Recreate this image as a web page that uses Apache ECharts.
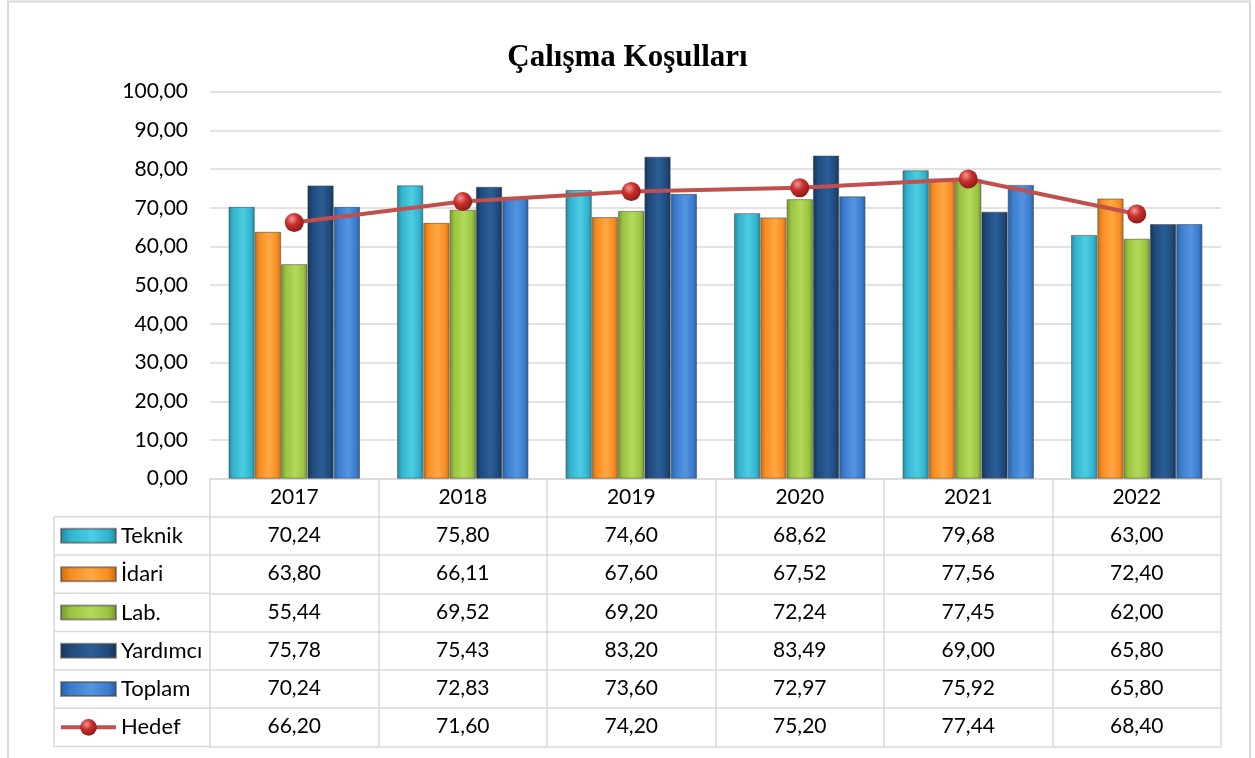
<!DOCTYPE html>
<html lang="tr">
<head>
    <meta charset="UTF-8">
    <title>Çalışma Koşulları</title>
    <script src="https://cdn.jsdelivr.net/npm/echarts@6.0.0/dist/echarts.min.js"></script>
    <style>
        html, body { margin: 0; padding: 0; background: #fff; }
        #main { width: 1255px; height: 758px; }
    </style>
</head>
<body>
<div id="main"></div>
<script>
    // veriler
    var years = ['2017', '2018', '2019', '2020', '2021', '2022'];
    var teknik = [70.24, 75.80, 74.60, 68.62, 79.68, 63.00];
    var idari = [63.80, 66.11, 67.60, 67.52, 77.56, 72.40];
    var lab = [55.44, 69.52, 69.20, 72.24, 77.45, 62.00];
    var yardimci = [75.78, 75.43, 83.20, 83.49, 69.00, 65.80];
    var toplam = [70.24, 72.83, 73.60, 72.97, 75.92, 65.80];
    var hedef = [66.20, 71.60, 74.20, 75.20, 77.44, 68.40];
    var seriesNames = ['Teknik', 'İdari', 'Lab.', 'Yardımcı', 'Toplam', 'Hedef'];
    var yMin = 0, yMax = 100, yStep = 10;

    var rows = [teknik, idari, lab, yardimci, toplam, hedef];

    // renkler: kenar, orta, açık
    var palette = [
        ['#23869b', '#33b4ce', '#4ccde3'],
        ['#c56a12', '#f68d20', '#ffa844'],
        ['#729430', '#9bc43f', '#b3d95a'],
        ['#143257', '#1f4a7c', '#2b5e97'],
        ['#295e9d', '#3a7dcf', '#5494df']
    ];

    var font = 'Lato, "Open Sans", sans-serif';
    var line = '#d9d9d9';

    // yerleşim
    var gridLeft = 210, gridRight = 34, gridTop = 91.7, gridBottomY = 478.7;
    var headerH = 38, rowH = 38.3;
    var tableLeft = 54;
    var tableBottom = gridBottomY + headerH + rowH * rows.length;
    var labelSize = 21, legendSize = 22;

    function fmt(v) {
        return v.toFixed(2).replace('.', ',');
    }

    function grad(c) {
        return new echarts.graphic.LinearGradient(0, 0, 1, 0, [
            {offset: 0, color: c[0]},
            {offset: 0.18, color: c[1]},
            {offset: 0.55, color: c[2]},
            {offset: 0.85, color: c[1]},
            {offset: 1, color: c[0]}
        ]);
    }

    var series = [];
    for (var i = 0; i < 5; i++) {
        series.push({
            name: seriesNames[i],
            type: 'bar',
            data: rows[i],
            barWidth: 26.3,
            barGap: '0%',
            itemStyle: {
                color: grad(palette[i]),
                borderColor: 'rgba(70,70,70,0.55)',
                borderWidth: 1
            }
        });
    }
    series.push({
        name: seriesNames[5],
        type: 'line',
        data: hedef,
        symbol: 'circle',
        symbolSize: 19,
        z: 5,
        lineStyle: {color: '#c0504d', width: 4},
        itemStyle: {
            color: new echarts.graphic.RadialGradient(0.38, 0.32, 0.7, [
                {offset: 0, color: '#f09a97'},
                {offset: 0.45, color: '#c9302c'},
                {offset: 1, color: '#8c1b19'}
            ]),
            borderWidth: 0
        }
    });

    // lejant: çubuk simgesi yassı dikdörtgen, hedef kalın çizgi + top
    var legendData = seriesNames.map(function (n, idx) {
        if (idx < 5) {
            return {name: n, icon: 'path://M0,0H51V13H0Z'};
        }
        return {name: n, lineStyle: {width: 4}};
    });

    // tablo satırları: ek x eksenleri
    var xAxes = [{
        type: 'category',
        data: years,
        position: 'bottom',
        axisLine: {lineStyle: {color: line, width: 1.5}},
        axisTick: {show: true, length: tableBottom - gridBottomY, lineStyle: {color: line, width: 1.5}},
        axisLabel: {color: '#000', fontSize: labelSize, fontFamily: font, margin: 8}
    }];
    for (var r = 0; r < rows.length; r++) {
        xAxes.push({
            type: 'category',
            gridIndex: 0,
            data: rows[r].map(fmt),
            position: 'bottom',
            offset: headerH + rowH * r,
            axisLine: {lineStyle: {color: line, width: 1.5}},
            axisTick: {show: false},
            axisLabel: {color: '#000', fontSize: labelSize, fontFamily: font, margin: 8},
            splitLine: {show: false}
        });
    }
    xAxes.push({
        type: 'category',
        gridIndex: 0,
        data: years,
        position: 'bottom',
        offset: tableBottom - gridBottomY,
        axisLine: {lineStyle: {color: line, width: 1.5}},
        axisTick: {show: false},
        axisLabel: {show: false}
    });

    // çerçeve ve sol sütun çizgileri
    var graphics = [{
        type: 'rect',
        shape: {x: 8, y: 1.5, width: 1242, height: 800},
        style: {fill: null, stroke: line, lineWidth: 2},
        silent: true
    }, {
        type: 'line',
        shape: {x1: tableLeft, y1: gridBottomY + headerH, x2: tableLeft, y2: tableBottom},
        style: {stroke: line, lineWidth: 1.5},
        silent: true
    }];
    for (var k = 0; k <= rows.length; k++) {
        var yy = gridBottomY + headerH + rowH * k;
        graphics.push({
            type: 'line',
            shape: {x1: tableLeft, y1: yy, x2: gridLeft, y2: yy},
            style: {stroke: line, lineWidth: 1.5},
            silent: true
        });
    }

    var myChart = echarts.init(document.getElementById('main'));
    myChart.setOption({
        animation: false,
        backgroundColor: '#fff',
        title: {
            text: 'Çalışma Koşulları',
            left: 'center',
            top: 37,
            textStyle: {fontFamily: '"Liberation Serif", "Times New Roman", serif', fontWeight: 'bold', fontSize: 31, color: '#000'}
        },
        legend: {
            data: legendData,
            orient: 'vertical',
            left: 59,
            top: gridBottomY + headerH + rowH / 2 - 12,
            padding: 0,
            itemWidth: 55,
            itemHeight: 21,
            itemGap: rowH - 24,
            selectedMode: false,
            textStyle: {fontSize: legendSize, fontFamily: font, color: '#000', lineHeight: 24}
        },
        grid: {
            left: gridLeft,
            right: gridRight,
            top: gridTop,
            bottom: 758 - gridBottomY,
            containLabel: false,
            outerBoundsMode: 'none'
        },
        xAxis: xAxes,
        yAxis: {
            type: 'value',
            min: yMin,
            max: yMax,
            interval: yStep,
            axisLine: {show: false},
            axisTick: {show: false},
            axisLabel: {color: '#000', fontSize: labelSize, fontFamily: font, margin: 22, formatter: fmt},
            splitLine: {lineStyle: {color: line, width: 1.5}}
        },
        graphic: graphics,
        series: series
    });
</script>
</body>
</html>
